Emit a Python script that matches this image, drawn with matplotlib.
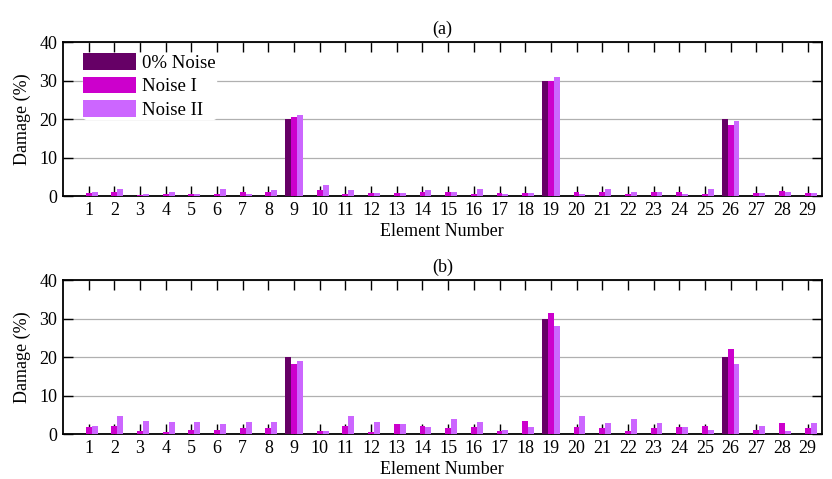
import numpy as np
import matplotlib
matplotlib.use("Agg")
import matplotlib.pyplot as plt

plt.rcParams['font.family'] = ['Liberation Serif', 'DejaVu Serif']

elements = np.arange(1, 30)
labels = ["0% Noise", "Noise I", "Noise II"]
colors = ["#660066", "#cc00cc", "#cc66ff"]

# panel (a)
a_clean = [0, 0, 0, 0, 0, 0, 0, 0, 20, 0, 0, 0, 0, 0, 0,
           0, 0, 0, 30, 0, 0, 0, 0, 0, 0, 20, 0, 0, 0]
a_noise1 = [0.7, 1.1, 0.3, 0.4, 0.4, 0.4, 1.1, 1.1, 20.5, 1.5, 0.5, 0.9, 0.9, 1.1, 1.1,
            0.6, 0.9, 0.9, 30.0, 1.1, 1.1, 0.5, 1.1, 1.1, 0.5, 18.5, 0.9, 1.3, 0.9]
a_noise2 = [1.1, 1.8, 0.5, 1.1, 0.5, 1.8, 0.6, 1.5, 21.0, 2.9, 1.5, 0.8, 0.9, 1.5, 1.1,
            1.8, 0.5, 0.9, 30.8, 0.5, 1.8, 1.1, 1.1, 0.5, 1.8, 19.5, 0.9, 1.1, 0.9]

# panel (b)
b_clean = a_clean
b_noise1 = [1.8, 2.2, 0.7, 0.4, 1.1, 1.1, 1.6, 1.6, 18.3, 0.7, 2.2, 0.5, 2.5, 2.2, 1.6,
            1.8, 0.7, 3.5, 31.5, 1.8, 1.6, 0.7, 1.6, 1.8, 2.2, 22.0, 1.1, 2.8, 1.6]
b_noise2 = [2.2, 4.6, 3.5, 3.1, 3.1, 2.5, 3.1, 3.1, 19.0, 0.7, 4.6, 3.1, 2.5, 1.8, 3.8,
            3.1, 1.1, 1.8, 28.0, 4.6, 2.8, 3.8, 2.8, 1.8, 1.1, 18.3, 2.2, 0.7, 2.8]

fig = plt.figure(figsize=(8.32, 4.79), dpi=100)
ax1 = fig.add_axes([0.0757, 0.5908, 0.912, 0.3215])
ax2 = fig.add_axes([0.0757, 0.0939, 0.912, 0.3215])

fs = 13
w = 0.23
for ax, data, title in [(ax1, [a_clean, a_noise1, a_noise2], "(a)"),
                        (ax2, [b_clean, b_noise1, b_noise2], "(b)")]:
    for i, vals in enumerate(data):
        ax.bar(elements + (i - 1) * w, vals, width=w, color=colors[i],
               label=labels[i], zorder=3)
    ax.set_xlim(0, 29.55)
    ax.set_ylim(0, 40)
    ax.set_xticks(elements)
    ax.set_yticks([0, 10, 20, 30, 40])
    ax.yaxis.grid(True, color="#b0b0b0", linewidth=0.9, zorder=0)
    ax.tick_params(axis="x", direction="in", top=True, length=7, width=1,
                   labelsize=fs, pad=4)
    ax.tick_params(axis="y", direction="in", right=True, length=7, width=1,
                   labelsize=fs, pad=4)
    for s in ax.spines.values():
        s.set_linewidth(1.3)
    ax.set_xlabel("Element Number", fontsize=fs, labelpad=3)
    ax.set_ylabel("Damage (%)", fontsize=fs, labelpad=6)
    ax.set_title(title, fontsize=fs, pad=6)

leg = ax1.legend(loc="upper left", bbox_to_anchor=(20 / 759, 1 - 11 / 154),
                 borderaxespad=0, borderpad=0, frameon=True, fontsize=13.5,
                 handlelength=2.85, handleheight=1.0, labelspacing=0.25,
                 handletextpad=0.3)
leg.get_frame().set_edgecolor("white")
leg.get_frame().set_facecolor("white")
leg.get_frame().set_alpha(1)
leg.set_zorder(5)

fig.savefig("out.png", dpi=100)
